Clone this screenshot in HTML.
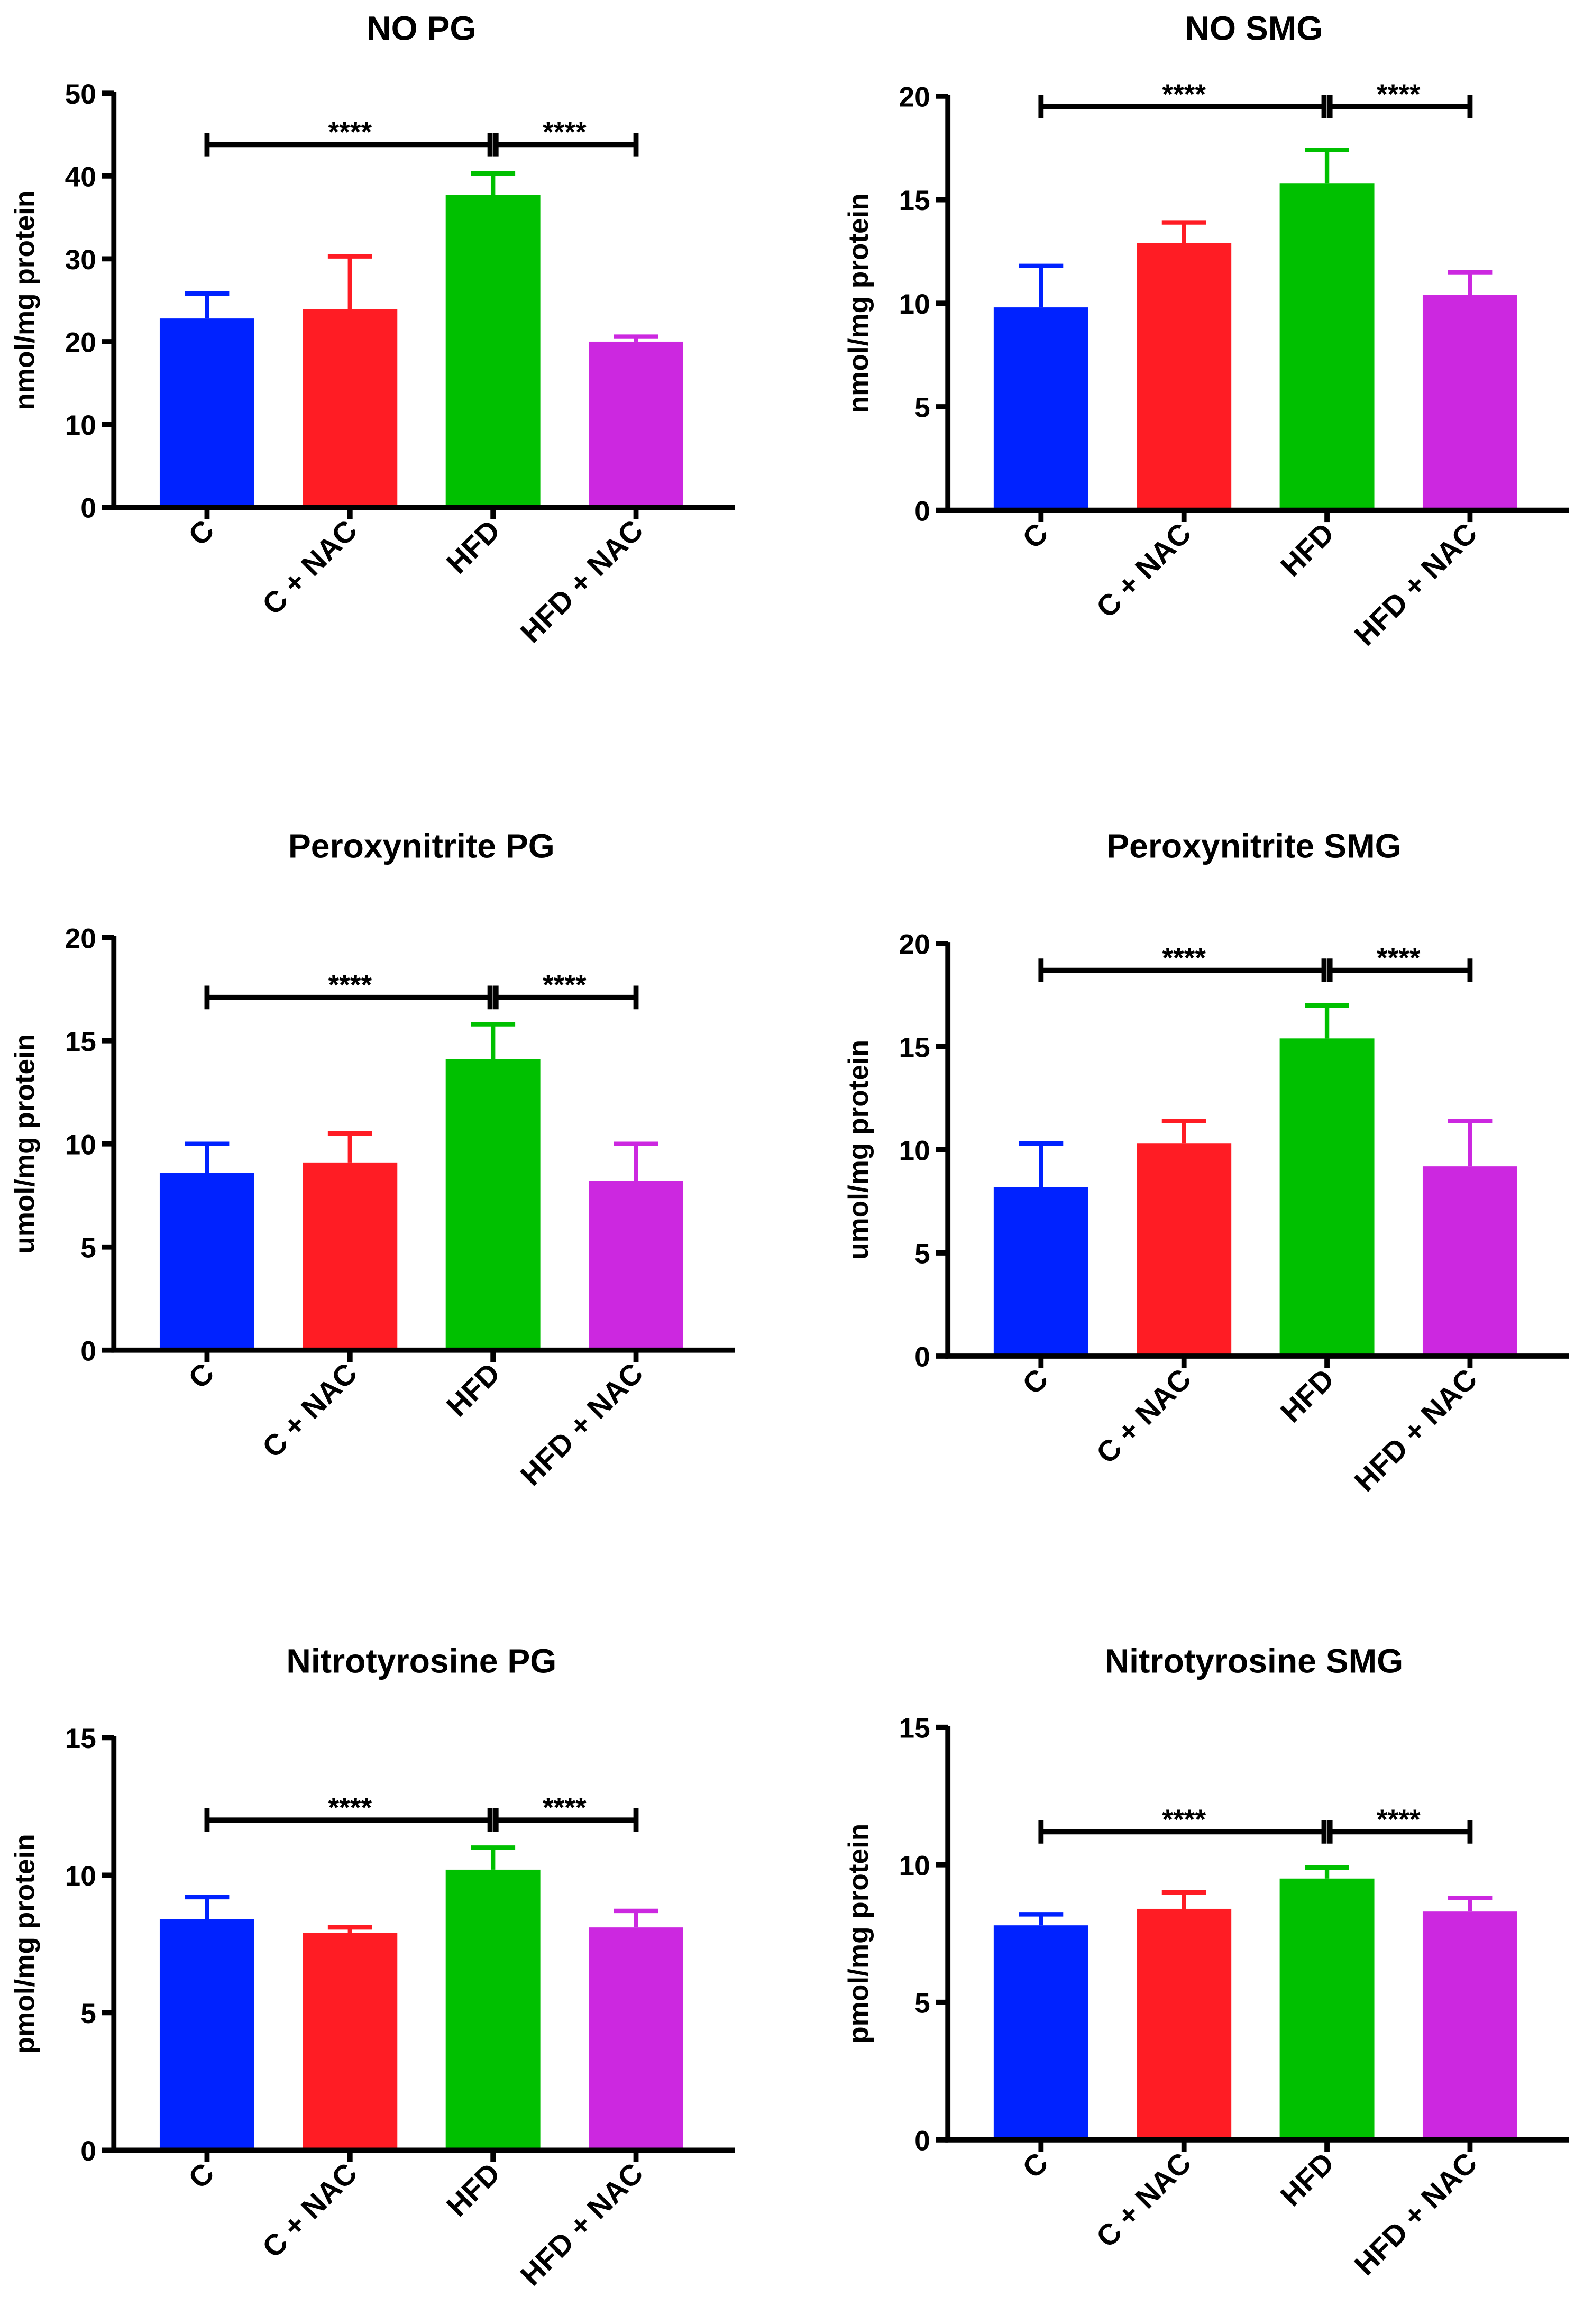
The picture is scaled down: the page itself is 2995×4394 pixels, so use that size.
<!DOCTYPE html>
<html><head><meta charset="utf-8"><style>
html,body{margin:0;padding:0;background:#fff}
svg{display:block}
text{font-family:"Liberation Sans",Arial,sans-serif;font-weight:bold;fill:#000}
</style></head><body>
<svg id="fig" width="2995" height="4394" viewBox="0 0 1071.2 1571.5" xmlns="http://www.w3.org/2000/svg"></svg>
<script>
const categories = ["C", "C + NAC", "HFD", "HFD + NAC"];
const colors = ["#0022ff", "#ff1c24", "#00c000", "#cc28e0"];
const titles = ["NO PG", "NO SMG", "Peroxynitrite PG", "Peroxynitrite SMG", "Nitrotyrosine PG", "Nitrotyrosine SMG"];
const yLabels = ["nmol/mg protein", "nmol/mg protein", "umol/mg protein", "umol/mg protein", "pmol/mg protein", "pmol/mg protein"];
const yMax = [50, 20, 20, 20, 15, 15];
const yStep = [10, 5, 5, 5, 5, 5];
const meansNoPG = [22.8, 23.9, 37.7, 20.0];
const errNoPG = [25.8, 30.3, 40.3, 20.6];
const meansNoSMG = [9.8, 12.9, 15.8, 10.4];
const errNoSMG = [11.8, 13.9, 17.4, 11.5];
const meansPerPG = [8.6, 9.1, 14.1, 8.2];
const errPerPG = [10.0, 10.5, 15.8, 10.0];
const meansPerSMG = [8.2, 10.3, 15.4, 9.2];
const errPerSMG = [10.3, 11.4, 17.0, 11.4];
const meansNitPG = [8.4, 7.9, 10.2, 8.1];
const errNitPG = [9.2, 8.1, 11.0, 8.7];
const meansNitSMG = [7.8, 8.4, 9.5, 8.3];
const errNitSMG = [8.2, 9.0, 9.9, 8.8];
const bracketLevels = [43.8, 19.5, 17.1, 18.7, 12.0, 11.2];

const means = [meansNoPG, meansNoSMG, meansPerPG, meansPerSMG, meansNitPG, meansNitSMG];
const errs = [errNoPG, errNoSMG, errPerPG, errPerSMG, errNitPG, errNitSMG];
const panels = [
 {ax:77, top:63, zero:343, titleY:18, titleX:285},
 {ax:641, top:65, zero:345, titleY:18, titleX:848},
 {ax:77, top:634, zero:913, titleY:571, titleX:285},
 {ax:641, top:638, zero:917, titleY:571, titleX:848},
 {ax:77, top:1175, zero:1454, titleY:1122, titleX:285},
 {ax:641, top:1168, zero:1447, titleY:1122, titleX:848}
];
const NS = "http://www.w3.org/2000/svg";
const svg = document.getElementById("fig");
function mk(tag, attrs, parent, txt){
  const e = document.createElementNS(NS, tag);
  for (const k in attrs) e.setAttribute(k, attrs[k]);
  if (txt !== undefined) e.textContent = txt;
  parent.appendChild(e);
  return e;
}
panels.forEach((p, i) => {
  const g = mk("g", {}, svg);
  
  
  const y = v => p.zero - v / yMax[i] * (p.zero - p.top);
  const x = k => p.ax + 63 + k * 96.7;
  const t = mk("text", {x:p.titleX, y:p.titleY + 9, "text-anchor":"middle", "font-size":23}, g, titles[i]);
  
  
  const yl = mk("text", {transform:`translate(${p.ax - 54},${(p.top + p.zero) / 2}) rotate(-90)`, "text-anchor":"middle", "font-size":19}, g, yLabels[i]);
  
  
  means[i].forEach((m, k) => {
    const cx = x(k);
    const eb = mk("g", {stroke:colors[k], "stroke-width":3}, g);
    
    
    mk("line", {x1:cx, x2:cx, y1:y(m), y2:y(errs[i][k])}, eb);
    mk("line", {x1:cx - 15, x2:cx + 15, y1:y(errs[i][k]), y2:y(errs[i][k])}, eb);
    const r = mk("rect", {x:cx - 32, y:y(m), width:64, height:p.zero - y(m), fill:colors[k]}, g);
    
    
    mk("line", {x1:cx, x2:cx, y1:p.zero, y2:p.zero + 8, stroke:"#000", "stroke-width":3.5}, g);
    const cl = mk("text", {transform:`translate(${cx + 6},${p.zero + 17}) rotate(-45)`, "text-anchor":"end", "font-size":20}, g, categories[k]);
    
    
  });
  const axes = mk("g", {stroke:"#000", "stroke-width":3.5, fill:"none"}, g);
  
  
  mk("path", {d:`M${p.ax},${p.top - 1} V${p.zero} H${p.ax + 420}`}, axes);
  for (let v = 0; v <= yMax[i]; v += yStep[i]) {
    mk("line", {x1:p.ax - 8, x2:p.ax, y1:y(v), y2:y(v)}, axes);
    const tl = mk("text", {x:p.ax - 12, y:y(v) + 7, "text-anchor":"end", "font-size":19}, g, String(v));
    
    
  }
  const by = y(bracketLevels[i]);
  const br = mk("g", {stroke:"#000", "stroke-width":3.5}, g);
  
  
  const x0 = x(0), x2 = x(2), x3 = x(3);
  mk("line", {x1:x0, x2:x2 - 2, y1:by, y2:by}, br);
  mk("line", {x1:x2 + 2, x2:x3, y1:by, y2:by}, br);
  [x0, x2 - 2, x2 + 2, x3].forEach(xx => mk("line", {x1:xx, x2:xx, y1:by - 8, y2:by + 8}, br));
  const s1 = mk("text", {x:(x0 + x2) / 2, y:by - 2, "text-anchor":"middle", "font-size":19}, g, "****");
  
  
  const s2 = mk("text", {x:(x2 + x3) / 2, y:by - 2, "text-anchor":"middle", "font-size":19}, g, "****");
  
  
});
</script>
</body></html>
